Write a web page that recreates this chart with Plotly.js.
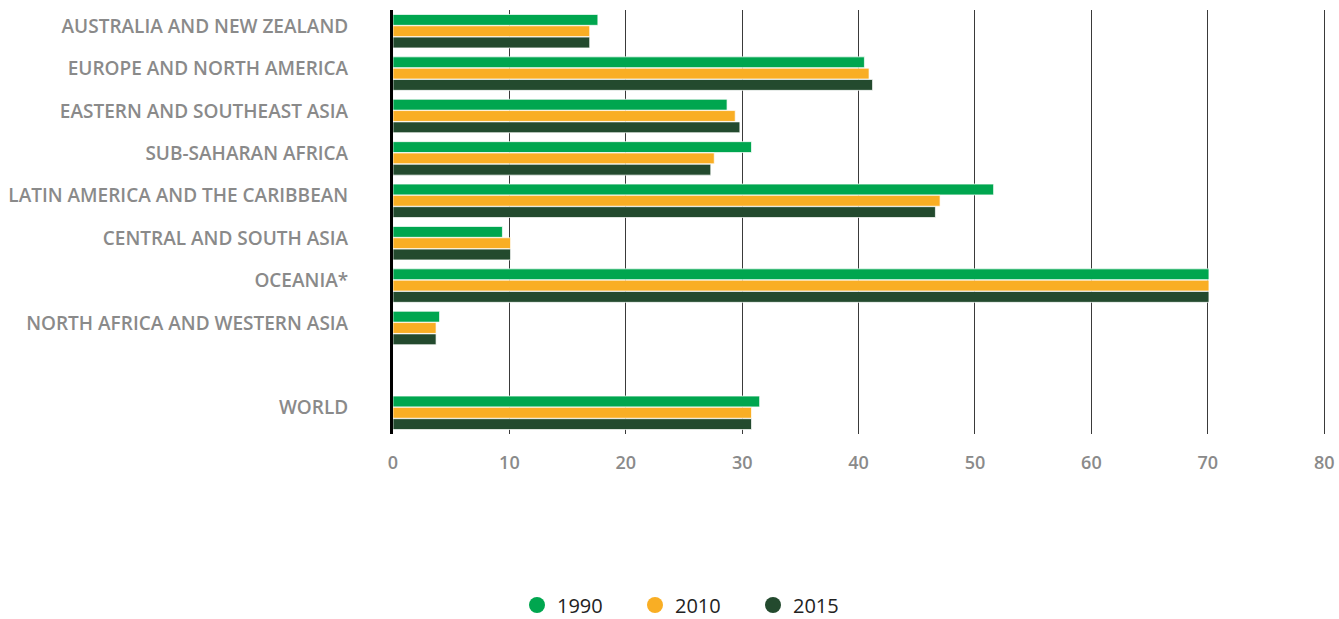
<!DOCTYPE html>
<html>
<head>
<meta charset="utf-8">
<script src="https://cdn.plot.ly/plotly-3.0.1.min.js"></script>
<style>html,body{margin:0;padding:0;background:#fff;}#chart{width:1339px;height:619px;}</style>
</head>
<body>
<div id="chart"></div>
<script>
const categories = [
  "AUSTRALIA AND NEW ZEALAND",
  "EUROPE AND NORTH AMERICA",
  "EASTERN AND SOUTHEAST ASIA",
  "SUB-SAHARAN AFRICA",
  "LATIN AMERICA AND THE CARIBBEAN",
  "CENTRAL AND SOUTH ASIA",
  "OCEANIA*",
  "NORTH AFRICA AND WESTERN ASIA",
  " ",
  "WORLD"
];
const years = ["1990", "2010", "2015"];
const values1990 = [17.6, 40.5, 28.7, 30.8, 51.6, 9.4, 70.1, 4.0, null, 31.5];
const values2010 = [16.9, 40.9, 29.4, 27.6, 47.0, 10.1, 70.1, 3.7, null, 30.8];
const values2015 = [16.9, 41.2, 29.8, 27.3, 46.6, 10.1, 70.1, 3.7, null, 30.8];
const xTicks = [0, 10, 20, 30, 40, 50, 60, 70, 80];

const colors = ["#00A64F", "#F9AE24", "#234A2E"];
const series = [values1990, values2010, values2015];
const legendIds = ["legend", "legend2", "legend3"];
const legendX = [517, 635, 753];

const traces = [];
series.forEach((vals, i) => {
  traces.push({
    type: "bar",
    orientation: "h",
    name: years[i],
    x: vals,
    y: categories,
    marker: {color: colors[i], line: {color: "rgba(255,255,255,0.7)", width: 1}},
    showlegend: false,
    hoverinfo: "x+name"
  });
});
series.forEach((vals, i) => {
  traces.push({
    type: "scatter",
    mode: "markers",
    name: years[i],
    x: [null],
    y: [null],
    marker: {color: colors[i], size: 21, symbol: "circle"},
    showlegend: true,
    legend: legendIds[i]
  });
});

function legendDef(px) {
  return {
    orientation: "h",
    xref: "container",
    yref: "container",
    x: px / 1339,
    xanchor: "left",
    y: 14 / 619,
    yanchor: "middle",
    font: {family: "Open Sans, sans-serif", size: 20, color: "#222"},
    itemwidth: 30,
    bgcolor: "rgba(0,0,0,0)"
  };
}

const layout = {
  width: 1339,
  height: 619,
  margin: {l: 393, r: 9, t: 10, b: 185},
  paper_bgcolor: "#fff",
  plot_bgcolor: "#fff",
  font: {family: "Open Sans, sans-serif"},
  barmode: "group",
  bargap: 0.2,
  bargroupgap: 0.04,
  xaxis: {
    range: [0, 80.5],
    tickvals: xTicks,
    ticktext: xTicks.map(String),
    showgrid: true,
    gridcolor: "#3a3a3a",
    gridwidth: 1,
    zeroline: false,
    showline: false,
    ticks: "",
    ticklabelstandoff: 16,
    tickfont: {family: "Open Sans, sans-serif", size: 18, color: "#8a8a8a", weight: 600},
    fixedrange: true
  },
  yaxis: {
    type: "category",
    categoryorder: "array",
    categoryarray: categories,
    autorange: "reversed",
    showgrid: false,
    zeroline: false,
    showline: true,
    linecolor: "#000",
    linewidth: 3,
    ticks: "",
    ticklabelstandoff: 38,
    ticklabelshift: 5,
    tickfont: {family: "Open Sans, sans-serif", size: 19, color: "#8a8a8a", weight: 600},
    fixedrange: true
  },
  legend: legendDef(legendX[0]),
  legend2: legendDef(legendX[1]),
  legend3: legendDef(legendX[2]),
  showlegend: true
};

Plotly.newPlot("chart", traces, layout, {displayModeBar: false, staticPlot: true});
</script>
</body>
</html>
